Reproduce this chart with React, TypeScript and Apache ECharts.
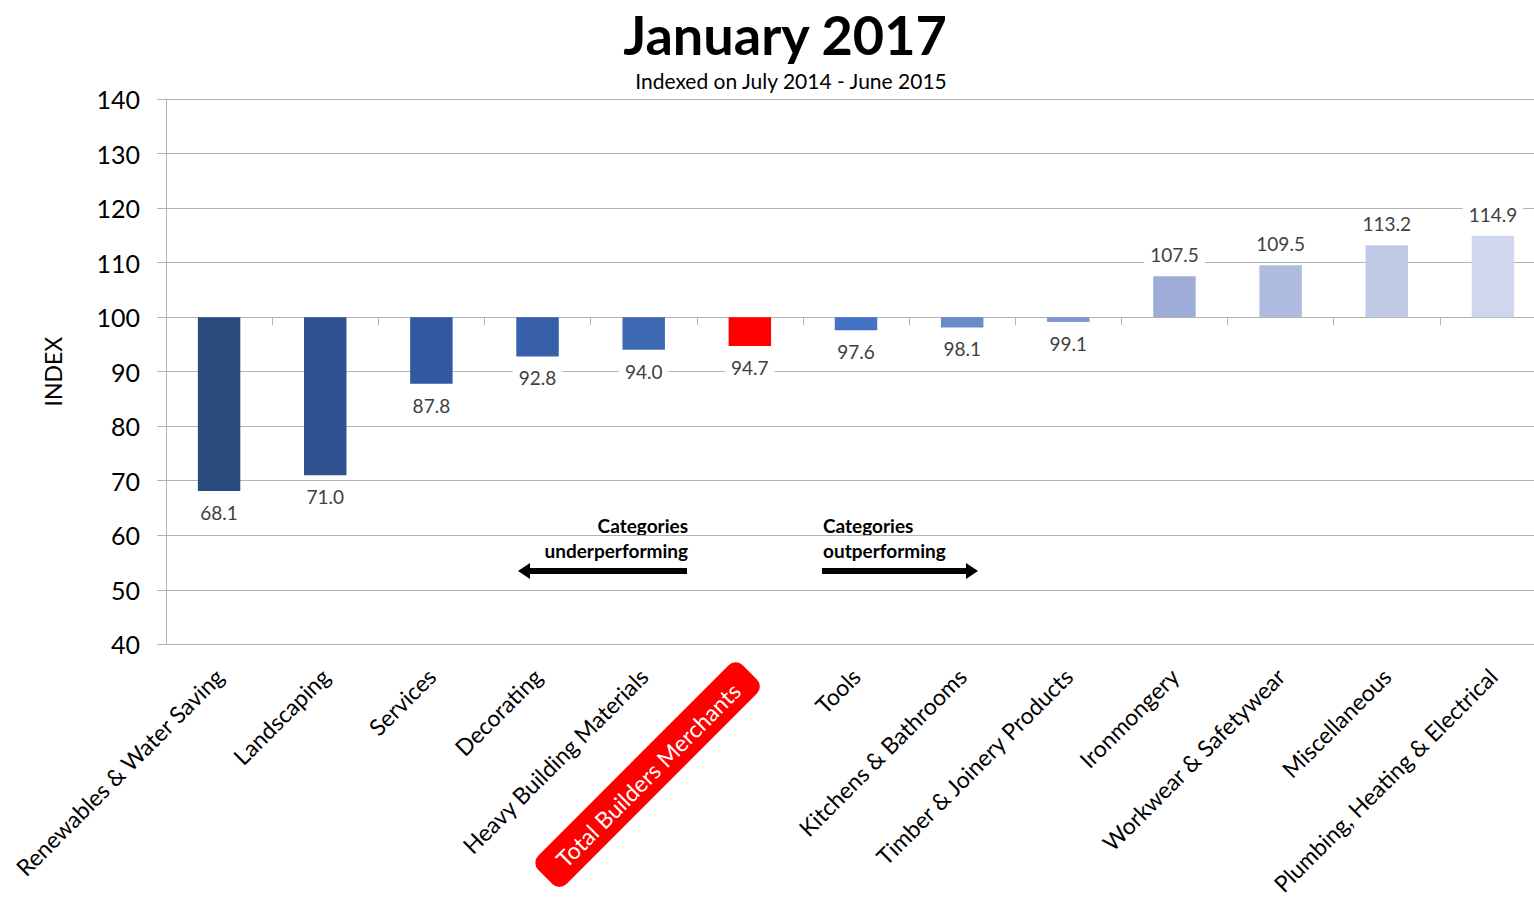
import React, { useEffect, useRef } from "react";
import * as echarts from "echarts";

const categories = [
  "Renewables & Water Saving",
  "Landscaping",
  "Services",
  "Decorating",
  "Heavy Building Materials",
  "Total Builders Merchants",
  "Tools",
  "Kitchens & Bathrooms",
  "Timber & Joinery Products",
  "Ironmongery",
  "Workwear & Safetywear",
  "Miscellaneous",
  "Plumbing, Heating & Electrical",
];
const values = [68.1, 71.0, 87.8, 92.8, 94.0, 94.7, 97.6, 98.1, 99.1, 107.5, 109.5, 113.2, 114.9];
const colors = [
  "#2B4A7E", "#2E5190", "#32599F", "#3760A8", "#3D68B4", "#FF0000",
  "#4472C4", "#6A8BCB", "#7F99D0", "#9DADD8", "#AFBCDF", "#BFC9E5", "#D0D7EC",
];
const BASE = 100;
const yTicks = [40, 50, 60, 70, 80, 90, 100, 110, 120, 130, 140];
const highlight = "Total Builders Merchants";
const FONT = "Lato, 'Open Sans', sans-serif";

export default function App() {
  const ref = useRef<HTMLDivElement>(null);
  useEffect(() => {
    if (!ref.current) return;
    const chart = echarts.init(ref.current, undefined, { renderer: "svg" });
    const data = values.map((v, i) => ({
      value: +(v - BASE).toFixed(2),
      itemStyle: { color: colors[i] },
      label: { position: v < BASE ? "bottom" : "top" },
    }));
    chart.setOption({
      animation: false,
      textStyle: { fontFamily: FONT },
      title: [
        {
          text: "January 2017",
          left: 780,
          top: 2,
          textAlign: "center",
          textStyle: { fontSize: 54, fontWeight: "bold", color: "#000", fontFamily: FONT },
        },
        {
          text: "Indexed on July 2014 - June 2015",
          left: 786,
          top: 65,
          textAlign: "center",
          textStyle: { fontSize: 21, fontWeight: "normal", color: "#000", fontFamily: FONT },
        },
      ],
      grid: { left: 166, right: 0, top: 99, bottom: 252, containLabel: false },
      xAxis: [
        {
          type: "category",
          data: categories,
          position: "bottom",
          axisLine: { onZero: true, lineStyle: { color: "#b3b3b3", width: 1 } },
          axisTick: { show: true, interval: 0, length: 8, lineStyle: { color: "#b3b3b3" } },
          axisLabel: { show: false },
          splitLine: { show: false },
        },
        {
          type: "category",
          data: categories,
          position: "bottom",
          axisLine: { show: false, onZero: false },
          axisTick: { show: false },
          axisLabel: {
            interval: 0,
            rotate: 45,
            margin: 28,
            fontSize: 23,
            color: "#000",
            fontFamily: FONT,
            formatter: (v: string) => (v === highlight ? `{hl|${v}}` : `{n|${v}}`),
            rich: {
              n: { fontSize: 23, color: "#000", fontFamily: FONT },
              hl: {
                fontSize: 23,
                color: "#fff",
                fontFamily: FONT,
                backgroundColor: "#FF0000",
                borderRadius: 10,
                padding: [9, 20, 8, 20],
              },
            },
          },
        },
      ],
      yAxis: {
        type: "value",
        min: yTicks[0] - BASE,
        max: yTicks[yTicks.length - 1] - BASE,
        interval: 10,
        name: "INDEX",
        nameLocation: "middle",
        nameGap: 102,
        nameRotate: 90,
        nameTextStyle: { fontSize: 23, color: "#000", fontFamily: FONT },
        axisLine: { show: true, lineStyle: { color: "#b3b3b3" } },
        axisTick: { show: true, length: 9, lineStyle: { color: "#b3b3b3" } },
        axisLabel: {
          fontSize: 25,
          color: "#000",
          margin: 26,
          fontFamily: FONT,
          formatter: (v: number) => String(Math.round(v + BASE)),
        },
        splitLine: { show: true, lineStyle: { color: "#b3b3b3", width: 1 } },
      },
      series: [
        {
          type: "bar",
          xAxisIndex: 0,
          barWidth: "40%",
          data,
          label: {
            show: true,
            distance: 9,
            fontSize: 19,
            color: "#404040",
            fontFamily: FONT,
            backgroundColor: "#fff",
            padding: [3, 6],
            formatter: (p: any) => values[p.dataIndex].toFixed(1),
          },
        },
      ],
      graphic: [
        {
          type: "text",
          x: 688,
          y: 513,
          style: {
            text: "Categories\nunderperforming",
            align: "right",
            fontSize: 19,
            fontWeight: "bold",
            lineHeight: 25,
            fill: "#000",
            fontFamily: FONT,
          },
        },
        {
          type: "text",
          x: 823,
          y: 513,
          style: {
            text: "Categories\noutperforming",
            align: "left",
            fontSize: 19,
            fontWeight: "bold",
            lineHeight: 25,
            fill: "#000",
            fontFamily: FONT,
          },
        },
        {
          type: "line",
          shape: { x1: 687, y1: 571, x2: 528, y2: 571 },
          style: { stroke: "#000", lineWidth: 6 },
        },
        {
          type: "polygon",
          shape: { points: [[518, 571], [530, 563], [530, 579]] },
          style: { fill: "#000" },
        },
        {
          type: "line",
          shape: { x1: 822, y1: 571, x2: 967, y2: 571 },
          style: { stroke: "#000", lineWidth: 6 },
        },
        {
          type: "polygon",
          shape: { points: [[978, 571], [966, 563], [966, 579]] },
          style: { fill: "#000" },
        },
      ],
    });
    return () => chart.dispose();
  }, []);
  return (
    <div
      style={{ position: "absolute", left: 0, top: 0, width: 1534, height: 898, overflow: "hidden", background: "#fff" }}
    >
      <div ref={ref} style={{ width: 1546, height: 898 }} />
    </div>
  );
}
